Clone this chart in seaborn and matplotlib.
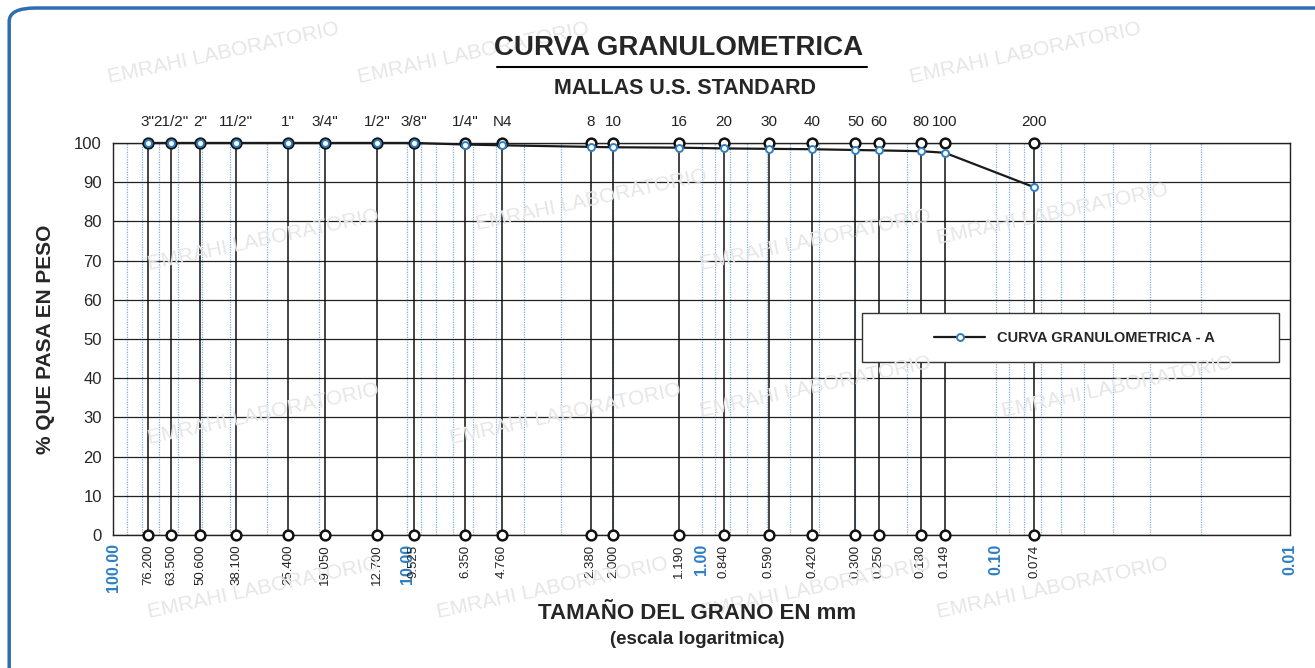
import numpy as np
import pandas as pd
import matplotlib
matplotlib.use("Agg")
import matplotlib.pyplot as plt
import seaborn as sns
from matplotlib.patches import FancyBboxPatch, Rectangle
from matplotlib.ticker import LogLocator, NullFormatter

# ---- data ----
sieve_names = ['3"', '21/2"', '2"', '11/2"', '1"', '3/4"', '1/2"', '3/8"', '1/4"', 'N4',
               '8', '10', '16', '20', '30', '40', '50', '60', '80', '100', '200']
sieve_mm = [76.200, 63.500, 50.600, 38.100, 25.400, 19.050, 12.700, 9.525, 6.350, 4.760,
            2.380, 2.000, 1.190, 0.840, 0.590, 0.420, 0.300, 0.250, 0.180, 0.149, 0.074]
passing = [100.0, 100.0, 100.0, 100.0, 100.0, 100.0, 100.0, 100.0, 99.6, 99.4,
           99.0, 98.9, 98.8, 98.6, 98.5, 98.4, 98.2, 98.1, 97.9, 97.5, 88.7]
decades = [100.0, 10.0, 1.0, 0.1, 0.01]
decade_labels = ["100.00", "10.00", "1.00", "0.10", "0.01"]
y_ticks = list(range(0, 101, 10))

df = pd.DataFrame({"mm": sieve_mm, "pasa": passing})

sns.set_style("white")
plt.rcParams['font.family'] = ['Liberation Sans', 'DejaVu Sans']

fig = plt.figure(figsize=(13.15, 6.68), dpi=100)
ax = fig.add_axes([0.086, 0.199, 0.895, 0.587])

# outer rounded border
border = FancyBboxPatch((0.007, -0.05), 1.05, 1.038, boxstyle="round,pad=0,rounding_size=0.02",
                        transform=fig.transFigure, fill=False, edgecolor="#2f6db3", linewidth=2.5,
                        clip_on=False)
fig.patches.append(border)

# faint watermark
for (wx, wy) in [(0.17, 0.92), (0.36, 0.92), (0.78, 0.92),
                 (0.2, 0.64), (0.45, 0.7), (0.62, 0.64), (0.8, 0.68),
                 (0.2, 0.38), (0.43, 0.38), (0.62, 0.42), (0.85, 0.42),
                 (0.2, 0.12), (0.42, 0.12), (0.62, 0.12), (0.8, 0.12)]:
    fig.text(wx, wy, "EMRAHI LABORATORIO", rotation=12, fontsize=15, color="#e6e6e6",
             ha="center", va="center", zorder=0)

ax.set_xscale("log")
ax.set_xlim(100, 0.01)
ax.set_ylim(0, 100)

# grids
ax.xaxis.set_minor_locator(LogLocator(base=10, subs=np.arange(2, 10)))
ax.xaxis.set_minor_formatter(NullFormatter())
ax.grid(which="minor", axis="x", color="#7fb0e0", linestyle=(0, (1, 1)), linewidth=0.9)
ax.grid(which="major", axis="x", color="#7fb0e0", linestyle=(0, (1, 1)), linewidth=0.9)
ax.set_yticks(y_ticks)
ax.grid(which="major", axis="y", color="#222222", linewidth=0.9)

# sieve vertical lines with open circles top and bottom
ax.vlines(sieve_mm, 0, 100, colors="#111111", linewidth=1.1, zorder=3)
ax.plot(sieve_mm, [100] * len(sieve_mm), linestyle="none", marker="o", markersize=7,
        markerfacecolor="white", markeredgecolor="#111111", markeredgewidth=1.8, zorder=5,
        clip_on=False)
ax.plot(sieve_mm, [0] * len(sieve_mm), linestyle="none", marker="o", markersize=7,
        markerfacecolor="white", markeredgecolor="#111111", markeredgewidth=1.8, zorder=5,
        clip_on=False)

# granulometric curve
sns.lineplot(data=df, x="mm", y="pasa", ax=ax, color="#1a1a1a", linewidth=1.6,
             marker="o", markersize=5, markerfacecolor="white", markeredgecolor="#2f7fc1",
             markeredgewidth=1.4, label="CURVA GRANULOMETRICA - A", zorder=6, clip_on=False)

# axis ticks
ax.set_xticks(decades)
ax.set_xticklabels(decade_labels, rotation=90, color="#2f7fc1", fontweight="bold", fontsize=11.5)
ax.tick_params(axis="x", which="both", length=0, pad=6)
ax.tick_params(axis="y", length=0, labelsize=12, pad=8)
for s in ax.spines.values():
    s.set_color("#222222")
    s.set_linewidth(1.0)

# sieve size labels below, names above
trans = ax.get_xaxis_transform()
for mm, nm in zip(sieve_mm, sieve_names):
    ax.text(mm, -0.025, f"{mm:.3f}", rotation=90, ha="center", va="top", fontsize=9.5,
            transform=trans, color="#222222")
    ax.text(mm, 1.035, nm, ha="center", va="bottom", fontsize=11, transform=trans,
            color="#222222")

ax.set_ylabel("% QUE PASA EN PESO", fontsize=15, fontweight="bold", labelpad=14)
ax.set_xlabel("")

fig.text(0.516, 0.928, "CURVA GRANULOMETRICA", ha="center", va="center", fontsize=20,
         fontweight="bold")
fig.add_artist(plt.Line2D([0.378, 0.659], [0.9, 0.9], color="black", linewidth=1.5,
                          transform=fig.transFigure))
fig.text(0.521, 0.868, "MALLAS U.S. STANDARD", ha="center", va="center", fontsize=15.5,
         fontweight="bold")
fig.text(0.53, 0.082, "TAMAÑO DEL GRANO EN mm", ha="center", va="center", fontsize=16,
         fontweight="bold")
fig.text(0.53, 0.042, "(escala logaritmica)", ha="center", va="center", fontsize=13.5,
         fontweight="bold")

# legend with a wide frame like the reference
ax.add_patch(Rectangle((0.636, 0.441), 0.355, 0.125, transform=ax.transAxes, facecolor="white",
                       edgecolor="#333333", linewidth=1.0, zorder=7))
leg = ax.legend(loc="center", bbox_to_anchor=(0.817, 0.503), frameon=False,
                handlelength=3.5, prop={"weight": "bold", "size": 10.5})
leg.set_zorder(8)

fig.savefig("out.png", dpi=100)
